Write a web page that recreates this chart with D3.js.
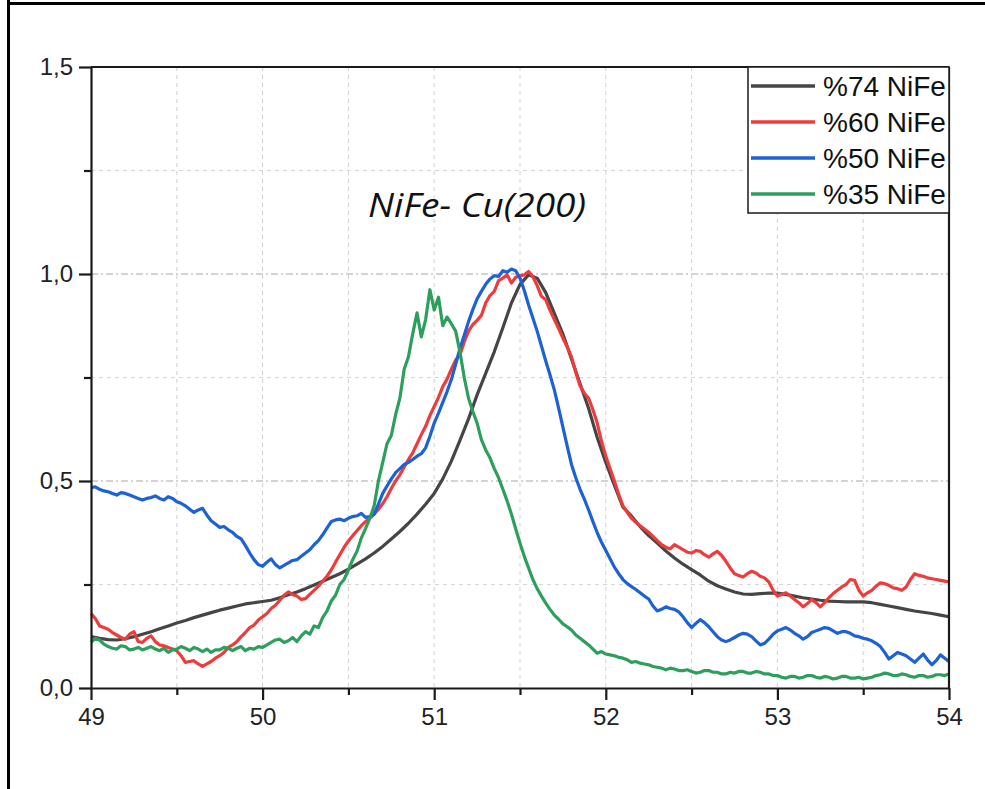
<!DOCTYPE html>
<html>
<head>
<meta charset="utf-8">
<script src="https://cdn.jsdelivr.net/npm/d3@7"></script>
<style>
  html, body { margin: 0; padding: 0; background: #fff; }
  svg { display: block; }
</style>
</head>
<body>
<div id="chart"></div>
<script>
// XRD detail: NiFe-Cu(200) peak for four NiFe compositions

const xStart = 49;

const seriesNames = ["%74 NiFe", "%60 NiFe", "%50 NiFe", "%35 NiFe"];
const seriesColors = ["#454545", "#ee3b3b", "#1c62d6", "#2d9f5c"];
const seriesSteps = [0.05, 0.025, 0.025, 0.025];

const xTicks = [49, 50, 51, 52, 53, 54];
const yTicks = [0, 0.5, 1.0, 1.5];

// %74: values at 49.00, 49.05, ... 54.00
const nife74 = [
  0.124, 0.120, 0.117, 0.116, 0.119, 0.124, 0.130, 0.136, 0.143, 0.150,
  0.157, 0.163, 0.170, 0.176, 0.182, 0.188, 0.193, 0.198, 0.203, 0.206,
  0.209, 0.212, 0.218, 0.225, 0.232, 0.240, 0.249, 0.258, 0.267, 0.276,
  0.287, 0.299, 0.312, 0.326, 0.342, 0.360, 0.378, 0.398, 0.420, 0.444,
  0.470, 0.505, 0.548, 0.598, 0.650, 0.708, 0.760, 0.812, 0.870, 0.930,
  0.975, 0.998, 0.990, 0.955, 0.905, 0.855, 0.795, 0.735, 0.675, 0.605,
  0.545, 0.490, 0.437, 0.415, 0.390, 0.368, 0.350, 0.331, 0.314, 0.299,
  0.286, 0.273, 0.258, 0.247, 0.239, 0.232, 0.227, 0.226, 0.228, 0.229,
  0.229, 0.226, 0.222, 0.218, 0.215, 0.212, 0.210, 0.209, 0.208, 0.208,
  0.208, 0.206, 0.202, 0.198, 0.194, 0.190, 0.186, 0.183, 0.180, 0.176,
  0.172
];

// %60, %50, %35: values at 49.000, 49.025, ... 54.000 (one row = 0.25)
const nife60 = [
  0.180, 0.168, 0.150, 0.146, 0.142, 0.134, 0.128, 0.122, 0.118, 0.130,
  0.136, 0.112, 0.110, 0.120, 0.126, 0.112, 0.104, 0.102, 0.098, 0.094,
  0.090, 0.078, 0.062, 0.064, 0.066, 0.058, 0.052, 0.058, 0.064, 0.072,
  0.078, 0.086, 0.098, 0.104, 0.112, 0.124, 0.134, 0.146, 0.152, 0.164,
  0.172, 0.180, 0.192, 0.200, 0.212, 0.224, 0.232, 0.226, 0.222, 0.214,
  0.216, 0.226, 0.236, 0.246, 0.258, 0.270, 0.285, 0.304, 0.322, 0.340,
  0.355, 0.368, 0.380, 0.392, 0.402, 0.410, 0.420, 0.432, 0.445, 0.462,
  0.482, 0.500, 0.515, 0.534, 0.552, 0.568, 0.590, 0.612, 0.632, 0.658,
  0.680, 0.702, 0.728, 0.746, 0.770, 0.792, 0.805, 0.836, 0.862, 0.878,
  0.888, 0.900, 0.930, 0.948, 0.958, 0.984, 0.990, 0.998, 0.978, 0.992,
  0.996, 0.998, 1.006, 0.994, 0.972, 0.946, 0.938, 0.912, 0.890, 0.868,
  0.845, 0.824, 0.800, 0.762, 0.730, 0.712, 0.700, 0.672, 0.640, 0.596,
  0.560, 0.530, 0.500, 0.468, 0.440, 0.424, 0.410, 0.400, 0.392, 0.384,
  0.376, 0.366, 0.356, 0.346, 0.340, 0.336, 0.346, 0.340, 0.334, 0.328,
  0.326, 0.332, 0.330, 0.322, 0.316, 0.324, 0.330, 0.320, 0.306, 0.290,
  0.276, 0.272, 0.268, 0.276, 0.282, 0.278, 0.270, 0.266, 0.256, 0.236,
  0.222, 0.226, 0.230, 0.222, 0.214, 0.206, 0.196, 0.204, 0.214, 0.206,
  0.196, 0.206, 0.218, 0.228, 0.236, 0.244, 0.250, 0.262, 0.260, 0.236,
  0.222, 0.230, 0.236, 0.246, 0.254, 0.252, 0.248, 0.242, 0.240, 0.236,
  0.244, 0.262, 0.276, 0.272, 0.270, 0.266, 0.264, 0.262, 0.260, 0.258,
  0.256
];

const nife50 = [
  0.484, 0.486, 0.480, 0.476, 0.474, 0.470, 0.466, 0.472, 0.470, 0.466,
  0.462, 0.458, 0.454, 0.458, 0.460, 0.464, 0.458, 0.454, 0.462, 0.458,
  0.450, 0.446, 0.440, 0.432, 0.424, 0.430, 0.434, 0.418, 0.404, 0.396,
  0.388, 0.390, 0.382, 0.376, 0.366, 0.360, 0.344, 0.326, 0.310, 0.298,
  0.294, 0.304, 0.312, 0.298, 0.290, 0.296, 0.302, 0.308, 0.310, 0.318,
  0.326, 0.334, 0.346, 0.356, 0.370, 0.386, 0.402, 0.406, 0.408, 0.404,
  0.410, 0.414, 0.416, 0.422, 0.412, 0.414, 0.420, 0.444, 0.470, 0.488,
  0.505, 0.520, 0.530, 0.540, 0.545, 0.552, 0.560, 0.566, 0.580, 0.608,
  0.640, 0.664, 0.690, 0.716, 0.745, 0.782, 0.820, 0.852, 0.885, 0.914,
  0.940, 0.958, 0.975, 0.988, 0.996, 0.994, 1.008, 1.004, 1.012, 1.008,
  0.990, 0.960, 0.925, 0.894, 0.862, 0.826, 0.790, 0.756, 0.720, 0.676,
  0.630, 0.584, 0.540, 0.508, 0.480, 0.456, 0.430, 0.402, 0.375, 0.352,
  0.332, 0.312, 0.292, 0.276, 0.262, 0.252, 0.245, 0.238, 0.230, 0.222,
  0.215, 0.198, 0.186, 0.190, 0.196, 0.192, 0.190, 0.184, 0.172, 0.158,
  0.146, 0.156, 0.165, 0.158, 0.148, 0.136, 0.124, 0.116, 0.112, 0.116,
  0.122, 0.128, 0.132, 0.130, 0.124, 0.114, 0.104, 0.108, 0.118, 0.130,
  0.138, 0.142, 0.146, 0.140, 0.132, 0.126, 0.118, 0.124, 0.134, 0.138,
  0.142, 0.146, 0.144, 0.138, 0.132, 0.136, 0.136, 0.132, 0.126, 0.124,
  0.120, 0.118, 0.114, 0.108, 0.100, 0.086, 0.070, 0.078, 0.086, 0.082,
  0.078, 0.070, 0.062, 0.072, 0.082, 0.068, 0.056, 0.066, 0.080, 0.072,
  0.064
];

const nife35 = [
  0.110, 0.120, 0.116, 0.106, 0.100, 0.096, 0.094, 0.102, 0.100, 0.092,
  0.094, 0.098, 0.092, 0.096, 0.100, 0.094, 0.090, 0.096, 0.086, 0.092,
  0.094, 0.100, 0.096, 0.090, 0.098, 0.094, 0.088, 0.094, 0.086, 0.092,
  0.092, 0.098, 0.096, 0.090, 0.096, 0.100, 0.090, 0.096, 0.094, 0.100,
  0.098, 0.104, 0.110, 0.116, 0.118, 0.110, 0.114, 0.122, 0.112, 0.126,
  0.136, 0.130, 0.150, 0.146, 0.170, 0.186, 0.210, 0.224, 0.250, 0.262,
  0.285, 0.310, 0.330, 0.362, 0.385, 0.410, 0.440, 0.500, 0.545, 0.590,
  0.610, 0.660, 0.700, 0.770, 0.800, 0.856, 0.906, 0.848, 0.890, 0.962,
  0.913, 0.944, 0.875, 0.896, 0.880, 0.862, 0.812, 0.750, 0.700, 0.668,
  0.640, 0.600, 0.575, 0.556, 0.530, 0.508, 0.480, 0.452, 0.420, 0.384,
  0.350, 0.318, 0.290, 0.262, 0.240, 0.222, 0.205, 0.190, 0.176, 0.166,
  0.155, 0.148, 0.140, 0.128, 0.120, 0.112, 0.104, 0.094, 0.084, 0.088,
  0.082, 0.080, 0.078, 0.074, 0.072, 0.068, 0.062, 0.064, 0.060, 0.058,
  0.056, 0.052, 0.050, 0.048, 0.044, 0.048, 0.046, 0.042, 0.042, 0.044,
  0.040, 0.036, 0.038, 0.042, 0.042, 0.038, 0.038, 0.034, 0.034, 0.038,
  0.036, 0.040, 0.040, 0.036, 0.036, 0.040, 0.038, 0.034, 0.034, 0.030,
  0.030, 0.026, 0.024, 0.028, 0.028, 0.024, 0.026, 0.030, 0.030, 0.026,
  0.024, 0.028, 0.026, 0.022, 0.024, 0.028, 0.028, 0.024, 0.024, 0.026,
  0.022, 0.024, 0.026, 0.030, 0.032, 0.036, 0.034, 0.030, 0.030, 0.034,
  0.032, 0.028, 0.026, 0.030, 0.030, 0.026, 0.028, 0.032, 0.032, 0.030,
  0.034
];

const allSeries = [nife74, nife60, nife50, nife35];

const width = 985, height = 789;
const margin = { top: 67, right: 36, bottom: 101, left: 91 };
const innerW = width - margin.left - margin.right;
const innerH = height - margin.top - margin.bottom;

const svg = d3.select("#chart").append("svg")
  .attr("width", width)
  .attr("height", height);

// outer frame (only left and top edges are visible in the crop)
svg.append("line").attr("x1", 8.5).attr("y1", 0).attr("x2", 8.5).attr("y2", height)
  .attr("stroke", "#000").attr("stroke-width", 3);
svg.append("line").attr("x1", 7).attr("y1", 3.5).attr("x2", width).attr("y2", 3.5)
  .attr("stroke", "#000").attr("stroke-width", 3);

const g = svg.append("g").attr("transform", `translate(${margin.left},${margin.top})`);

const x = d3.scaleLinear().domain([49, 54]).range([0, innerW]);
const y = d3.scaleLinear().domain([0, 1.5]).range([innerH, 0]);

const xMinor = d3.range(49.5, 54, 1);
const yMinor = [0.25, 0.75, 1.25];

// grid
g.append("g").selectAll("line")
  .data(xTicks.slice(1, -1).concat(xMinor))
  .join("line")
  .attr("x1", d => x(d)).attr("x2", d => x(d))
  .attr("y1", 0).attr("y2", innerH)
  .attr("stroke", "#cfcfcf").attr("stroke-width", 1)
  .attr("stroke-dasharray", "4,4");

g.append("g").selectAll("line")
  .data(yMinor)
  .join("line")
  .attr("x1", 0).attr("x2", innerW)
  .attr("y1", d => y(d)).attr("y2", d => y(d))
  .attr("stroke", "#d6d6d6").attr("stroke-width", 1)
  .attr("stroke-dasharray", "4,4");

g.append("g").selectAll("line")
  .data([0.5, 1.0])
  .join("line")
  .attr("x1", 0).attr("x2", innerW)
  .attr("y1", d => y(d)).attr("y2", d => y(d))
  .attr("stroke", "#a8a8a8").attr("stroke-width", 1)
  .attr("stroke-dasharray", "7,3,2,3");

// curves
g.append("g").selectAll("path")
  .data(allSeries)
  .join("path")
  .attr("d", (d, k) => d3.line()
    .x((v, i) => x(xStart + i * seriesSteps[k]))
    .y(v => y(v))(d))
  .attr("fill", "none")
  .attr("stroke", (d, k) => seriesColors[k])
  .attr("stroke-width", 3.2)
  .attr("stroke-linejoin", "round");

// axes
const fmtY = v => d3.format(".1f")(v).replace(".", ",");

g.append("g").attr("transform", `translate(0,${innerH})`)
  .call(d3.axisBottom(x).tickValues(xTicks).tickFormat(d3.format("d")).tickSize(12).tickSizeOuter(0).tickPadding(8));
g.append("g").attr("transform", `translate(0,${innerH})`)
  .call(d3.axisBottom(x).tickValues(xMinor).tickFormat("").tickSize(7).tickSizeOuter(0))
  .select(".domain").remove();

g.append("g")
  .call(d3.axisLeft(y).tickValues(yTicks).tickFormat(fmtY).tickSize(12).tickSizeOuter(0).tickPadding(6));
g.append("g")
  .call(d3.axisLeft(y).tickValues(yMinor).tickFormat("").tickSize(7).tickSizeOuter(0))
  .select(".domain").remove();

g.selectAll(".domain, .tick line").attr("stroke", "#1a1a1a").attr("stroke-width", 2.2);
g.selectAll(".tick text")
  .style("font-family", "Arial, 'Liberation Sans', sans-serif")
  .style("font-size", "24px")
  .attr("fill", "#222");

// top and right frame
g.append("line").attr("x1", 0).attr("x2", innerW).attr("y1", 0).attr("y2", 0)
  .attr("stroke", "#1a1a1a").attr("stroke-width", 2.2);
g.append("line").attr("x1", innerW).attr("x2", innerW).attr("y1", 0).attr("y2", innerH)
  .attr("stroke", "#1a1a1a").attr("stroke-width", 2.2);

// legend
const legX = x(54) - 201, legH = 146;
const leg = g.append("g");
leg.append("rect")
  .attr("x", legX).attr("y", 0).attr("width", 201).attr("height", legH)
  .attr("fill", "#fff").attr("stroke", "#1a1a1a").attr("stroke-width", 1.5);
seriesNames.forEach((name, i) => {
  const cy = 19 + i * 36;
  leg.append("line")
    .attr("x1", legX + 3).attr("x2", legX + 67)
    .attr("y1", cy).attr("y2", cy)
    .attr("stroke", seriesColors[i]).attr("stroke-width", 3.5);
  leg.append("text")
    .attr("x", legX + 75).attr("y", cy + 10)
    .style("font-family", "Arial, 'Liberation Sans', sans-serif")
    .style("font-size", "28px")
    .attr("fill", "#111")
    .text(name);
});

// annotation
g.append("text")
  .attr("x", 477 - margin.left)
  .attr("y", 150)
  .attr("text-anchor", "middle")
  .attr("textLength", 218)
  .attr("lengthAdjust", "spacingAndGlyphs")
  .style("font-family", "'Open Sans', sans-serif")
  .style("font-style", "italic")
  .style("font-size", "32px")
  .attr("fill", "#111")
  .text("NiFe- Cu(200)");
</script>
</body>
</html>
